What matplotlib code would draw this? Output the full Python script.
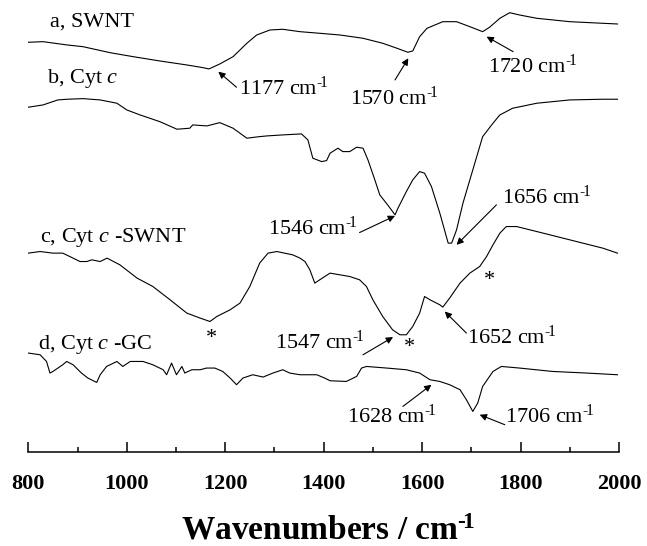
import matplotlib
matplotlib.use("Agg")
import matplotlib.pyplot as plt

plt.rcParams['font.family'] = ['Liberation Serif', 'DejaVu Serif']
plt.rcParams['mathtext.fontset'] = 'custom'
plt.rcParams['mathtext.rm'] = 'Liberation Serif'
plt.rcParams['mathtext.it'] = 'Liberation Serif:italic'
plt.rcParams['mathtext.bf'] = 'Liberation Serif:bold'

# ---- data: stacked FTIR spectra (transmittance, arbitrary units incl. stacking) ----
wn_a = [800, 830, 879, 911, 966, 1013, 1067, 1122, 1155, 1167, 1189, 1216, 1244, 1264,
        1291, 1317, 1352, 1392, 1433, 1480, 1520, 1549, 1571, 1581, 1595, 1610, 1642,
        1670, 1697, 1723, 1737, 1758, 1778, 1798, 1833, 1900, 1967, 1997]
t_a = [40.97, 41.03, 40.70, 40.53, 39.93, 39.53, 39.10, 38.70, 38.43, 38.30, 38.80, 39.53,
       40.87, 41.70, 42.20, 42.27, 42.03, 41.87, 41.70, 41.37, 40.87, 40.37, 39.97, 40.10,
       41.53, 42.37, 43.03, 43.03, 42.53, 42.03, 42.47, 43.37, 43.93, 43.70, 43.37, 43.03,
       42.87, 42.80]

wn_b = [800, 830, 860, 879, 911, 946, 980, 1000, 1027, 1067, 1102, 1128, 1134, 1163, 1189,
        1216, 1244, 1270, 1285, 1317, 1355, 1368, 1378, 1396, 1406, 1413, 1429, 1439, 1453,
        1467, 1480, 1490, 1504, 1514, 1530, 1545, 1551, 1568, 1581, 1595, 1605, 1619, 1636,
        1653, 1660, 1670, 1683, 1697, 1703, 1723, 1744, 1758, 1784, 1833, 1900, 1967, 1997]
t_b = [34.47, 34.70, 35.20, 35.27, 35.33, 35.20, 34.87, 34.20, 33.70, 33.03, 32.27, 32.37,
       32.70, 32.60, 32.93, 32.37, 31.37, 31.53, 31.60, 31.70, 31.80, 31.20, 29.37, 29.03,
       29.13, 29.87, 30.37, 30.03, 30.03, 30.47, 30.37, 29.20, 27.20, 25.70, 24.70, 23.70,
       24.37, 26.03, 27.20, 28.03, 27.87, 26.53, 23.87, 20.87, 20.87, 22.20, 24.87, 27.20,
       28.20, 31.53, 32.87, 33.70, 34.37, 34.87, 35.20, 35.27, 35.27]

wn_c = [800, 824, 850, 870, 891, 905, 919, 929, 946, 960, 986, 1021, 1053, 1088, 1122, 1149,
        1169, 1183, 1210, 1230, 1250, 1270, 1287, 1305, 1337, 1352, 1362, 1372, 1382, 1392,
        1413, 1433, 1453, 1473, 1487, 1500, 1520, 1540, 1555, 1568, 1581, 1595, 1605, 1616,
        1636, 1642, 1656, 1677, 1697, 1717, 1731, 1744, 1758, 1771, 1792, 1833, 1900, 1967,
        1997]
t_c = [19.87, 20.03, 19.87, 19.87, 19.37, 19.03, 19.03, 19.20, 19.03, 19.37, 18.70, 17.37,
       16.53, 15.20, 13.87, 13.37, 13.03, 13.53, 14.20, 14.87, 16.53, 18.87, 19.87, 20.03,
       19.70, 19.37, 19.03, 18.20, 16.87, 17.20, 17.87, 17.70, 17.53, 17.20, 16.53, 15.20,
       13.53, 12.20, 11.70, 11.70, 12.53, 13.87, 15.53, 15.20, 14.70, 14.47, 15.37, 16.87,
       17.87, 18.53, 19.53, 20.70, 21.87, 22.53, 22.53, 22.03, 21.20, 20.37, 19.87]

wn_d = [800, 824, 837, 844, 850, 870, 878, 891, 908, 921, 939, 946, 959, 980, 992, 1007,
        1033, 1053, 1074, 1081, 1091, 1101, 1112, 1118, 1132, 1149, 1162, 1179, 1195, 1210,
        1223, 1236, 1256, 1277, 1297, 1317, 1331, 1352, 1386, 1402, 1413, 1446, 1467, 1477,
        1487, 1528, 1568, 1595, 1616, 1636, 1656, 1677, 1690, 1703, 1713, 1723, 1744, 1761,
        1798, 1865, 1934, 1997]
t_d = [9.87, 9.70, 9.03, 7.87, 8.03, 8.70, 9.03, 8.70, 7.87, 7.37, 6.93, 7.70, 8.53, 9.03,
       8.53, 9.03, 9.03, 8.70, 8.20, 7.70, 8.87, 7.70, 8.53, 7.87, 8.20, 8.20, 8.37, 8.37,
       8.03, 7.37, 6.70, 7.37, 7.70, 7.47, 7.87, 8.20, 7.87, 7.70, 7.70, 7.37, 7.10, 7.03,
       7.53, 8.37, 8.53, 8.37, 8.20, 7.87, 7.20, 7.03, 6.70, 6.20, 5.20, 4.03, 4.87, 6.53,
       8.03, 8.53, 8.37, 8.03, 7.87, 7.70]

trace_labels = ["a, SWNT", "b, Cyt $\\mathit{c}$", "c, Cyt $\\mathit{c}$ -SWNT",
                "d, Cyt $\\mathit{c}$ -GC"]
label_pos = [(844, 43.0), (838, 37.3), (824, 21.4), (820, 10.7)]

# peak annotations: text, text-left position, arrow tail, arrow tip
peak_text = ["1177", "1570", "1720", "1546", "1656", "1547", "1652", "1628", "1706"]
peak_text_pos = [(1228, 36.4), (1453, 35.4), (1733, 38.6), (1287, 22.4), (1762, 25.5),
                 (1301, 11.0), (1691, 11.5), (1447, 3.6), (1768, 3.6)]
arrow_tail = [(1223, 36.47), (1545, 37.2), (1785, 40.03), (1473, 21.93), (1751, 24.7),
              (1480, 9.7), (1690, 11.87), (1561, 4.53), (1768, 2.7)]
arrow_tip = [(1186, 38.03), (1572, 39.37), (1731, 41.53), (1545, 23.6), (1670, 20.7),
             (1541, 11.47), (1646, 14.03), (1619, 6.7), (1717, 3.7)]

star_pos = [(1173, 11.3), (1575, 10.4), (1737, 17.1)]

xticks_major = [800, 1000, 1200, 1400, 1600, 1800, 2000]
xticks_minor = [900, 1100, 1300, 1500, 1700, 1900]

SUP = "$^{\u2010\\!1}$"

# ---- figure ----
fig = plt.figure(figsize=(6.47, 5.46), dpi=100)
ax = fig.add_axes([28.3 / 647, (546 - 451.7) / 546, 590.7 / 647, 451.7 / 546])

for wn, t in [(wn_a, t_a), (wn_b, t_b), (wn_c, t_c), (wn_d, t_d)]:
    ax.plot(wn, t, color='black', lw=0.8)

for txt, (x, y) in zip(trace_labels, label_pos):
    ax.text(x, y, txt, fontsize=16, ha='left', va='center')

for txt, (x, y), tail, tip in zip(peak_text, peak_text_pos, arrow_tail, arrow_tip):
    ax.text(x, y, txt + " cm" + SUP, fontsize=16, ha='left', va='center')
    ax.annotate('', xy=tip, xytext=tail,
                arrowprops=dict(arrowstyle='-|>', color='black', lw=0.8,
                                mutation_scale=10, shrinkA=0, shrinkB=0))

for (x, y) in star_pos:
    ax.text(x, y, '*', fontsize=16, ha='center', va='center')

ax.set_xlim(800, 2000)
ax.set_ylim(0, 45.2)
ax.set_xticks(xticks_major)
ax.set_xticks(xticks_minor, minor=True)
ax.set_xticklabels([str(v) for v in xticks_major], fontsize=16, fontweight='bold')
ax.tick_params(axis='x', which='major', direction='in', length=7, width=1.1, pad=16)
ax.tick_params(axis='x', which='minor', direction='in', length=3.6, width=1.1)
ax.set_yticks([])
for s in ['left', 'right', 'top']:
    ax.spines[s].set_visible(False)
ax.spines['bottom'].set_linewidth(1.1)

fig.text(328 / 647, (546 - 540) / 546, 'Wavenumbers / cm$^{\\mathbf{\u2010\\!1}}$',
         fontsize=24, fontweight='bold', ha='center', va='baseline')

fig.savefig('out.png', dpi=100)
